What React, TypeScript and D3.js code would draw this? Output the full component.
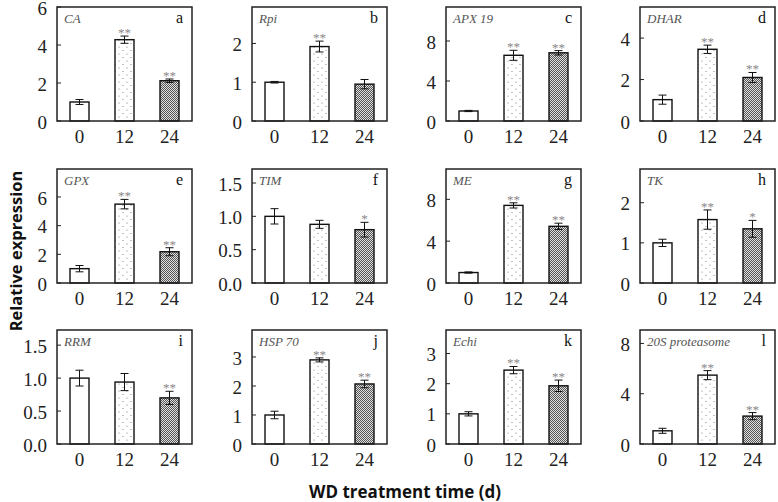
import * as d3 from 'd3'

const timePoints = ['0', '12', '24']
const geneNames = ['CA', 'Rpi', 'APX 19', 'DHAR', 'GPX', 'TIM', 'ME', 'TK', 'RRM', 'HSP 70', 'Echi', '20S proteasome']
const panelLetters = ['a', 'b', 'c', 'd', 'e', 'f', 'g', 'h', 'i', 'j', 'k', 'l']
const meanValues = [
  [1.0, 4.28, 2.12],
  [1.0, 1.92, 0.95],
  [1.0, 6.57, 6.82],
  [1.03, 3.46, 2.1],
  [1.0, 5.5, 2.18],
  [1.0, 0.88, 0.8],
  [1.0, 7.42, 5.42],
  [1.0, 1.58, 1.35],
  [1.0, 0.94, 0.7],
  [1.0, 2.9, 2.07],
  [1.0, 2.45, 1.93],
  [1.05, 5.48, 2.22],
]
const errorValues = [
  [0.13, 0.19, 0.09],
  [0.02, 0.14, 0.12],
  [0.06, 0.5, 0.22],
  [0.22, 0.2, 0.24],
  [0.22, 0.33, 0.28],
  [0.115, 0.06, 0.11],
  [0.06, 0.25, 0.3],
  [0.09, 0.24, 0.21],
  [0.12, 0.13, 0.1],
  [0.13, 0.07, 0.13],
  [0.07, 0.12, 0.19],
  [0.2, 0.36, 0.28],
]
const significance = [
  ['', '**', '**'],
  ['', '**', ''],
  ['', '**', '**'],
  ['', '**', '**'],
  ['', '**', '**'],
  ['', '', '*'],
  ['', '**', '**'],
  ['', '**', '*'],
  ['', '', '**'],
  ['', '**', '**'],
  ['', '**', '**'],
  ['', '**', '**'],
]
const yMaxima = [6, 2.94, 11.4, 5.5, 7.95, 1.71, 10.9, 2.84, 1.73, 3.93, 3.78, 9.07]
const yTickValues = [
  [0, 2, 4, 6],
  [0, 1, 2],
  [0, 4, 8],
  [0, 2, 4],
  [0, 2, 4, 6],
  [0, 0.5, 1, 1.5],
  [0, 4, 8],
  [0, 1, 2],
  [0, 0.5, 1, 1.5],
  [0, 1, 2, 3],
  [0, 1, 2, 3],
  [0, 4, 8],
]

const colLeft = [57, 252, 446, 640]
const rowTop = [7, 169, 330]
const PW = 135
const PH = 114
const BAR_W = 19
const serif = "'Liberation Serif', 'Times New Roman', Times, serif"
const sans = "'Open Sans', 'Noto Sans', sans-serif"
const fills = ['#fff', 'url(#dots)', 'url(#checker)']

function Panel({ i }: { i: number }) {
  const x = d3.scalePoint<string>().domain(timePoints).range([0, PW]).padding(0.5)
  const y = d3.scaleLinear().domain([0, yMaxima[i]]).range([PH, 0])
  const ticks = yTickValues[i]
  const fmt = ticks.some((t) => t % 1 !== 0) ? d3.format('.1f') : d3.format('d')
  const left = colLeft[i % 4]
  const top = rowTop[Math.floor(i / 4)]

  return (
    <g transform={`translate(${left},${top})`}>
      {timePoints.map((t, j) => {
        const cx = x(t)!
        const m = meanValues[i][j]
        const e = errorValues[i][j]
        const yTop = y(m + e)
        return (
          <g key={t}>
            <rect x={cx - BAR_W / 2} y={y(m)} width={BAR_W} height={PH - y(m)}
              fill={fills[j]} stroke="#111" strokeWidth={1.4} />
            <line x1={cx} x2={cx} y1={y(m - e)} y2={yTop} stroke="#111" strokeWidth={1} />
            <line x1={cx - 4} x2={cx + 4} y1={yTop} y2={yTop} stroke="#111" strokeWidth={1} />
            <line x1={cx - 4} x2={cx + 4} y1={y(m - e)} y2={y(m - e)} stroke="#111" strokeWidth={1} />
            {significance[i][j] && (
              <text x={cx} y={yTop + 1} textAnchor="middle" fontFamily={serif} fontSize={13} fill="#888">
                {significance[i][j]}
              </text>
            )}
          </g>
        )
      })}
      <rect x={0} y={0} width={PW} height={PH} fill="none" stroke="#222" strokeWidth={1.5} />
      {ticks.map((t) => (
        <g key={t} transform={`translate(0,${y(t)})`}>
          <line x1={0} x2={4} stroke="#222" strokeWidth={1} />
          <text x={-10} dy="0.4em" textAnchor="end" fontFamily={serif} fontSize={19} fill="#222">
            {fmt(t)}
          </text>
        </g>
      ))}
      {timePoints.map((t) => (
        <text key={t} x={x(t)} y={PH + 22} textAnchor="middle" fontFamily={serif} fontSize={19} fill="#222">
          {t}
        </text>
      ))}
      <text x={7} y={16} fontFamily={serif} fontStyle="italic" fontSize={13} fill="#555">
        {geneNames[i]}
      </text>
      <text x={PW - 9} y={16} textAnchor="end" fontFamily={serif} fontSize={16} fill="#111">
        {panelLetters[i]}
      </text>
    </g>
  )
}

export default function App() {
  return (
    <svg width={778} height={502} style={{ position: 'absolute', left: 0, top: 0, background: '#fff' }}>
      <defs>
        <pattern id="dots" width={8} height={7} patternUnits="userSpaceOnUse">
          <rect width={8} height={7} fill="#fff" />
          <circle cx={2} cy={1.5} r={0.6} fill="#777" />
          <circle cx={6} cy={5} r={0.6} fill="#777" />
        </pattern>
        <pattern id="checker" width={2} height={2} patternUnits="userSpaceOnUse">
          <rect width={2} height={2} fill="#e0e0e0" />
          <rect width={1} height={1} fill="#555" />
          <rect x={1} y={1} width={1} height={1} fill="#555" />
        </pattern>
      </defs>
      {geneNames.map((_, i) => (
        <Panel key={i} i={i} />
      ))}
      <text transform="translate(22,251) rotate(-90)" textAnchor="middle" fontFamily={sans} fontWeight="bold" fontSize={16.5} fill="#111">
        Relative expression
      </text>
      <text x={405} y={498} textAnchor="middle" fontFamily={sans} fontWeight="bold" fontSize={17} fill="#111">
        WD treatment time (d)
      </text>
    </svg>
  )
}
